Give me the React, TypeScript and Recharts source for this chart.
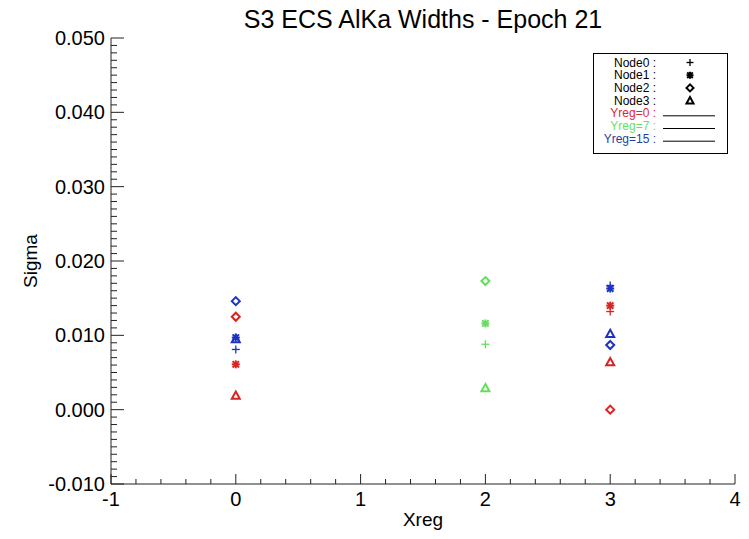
import React from 'react';
import { ScatterChart, Scatter, XAxis, YAxis } from 'recharts';

const TITLE = 'S3 ECS AlKa Widths - Epoch 21';
const X_LABEL = 'Xreg';
const Y_LABEL = 'Sigma';

const NODE_NAMES = ['Node0', 'Node1', 'Node2', 'Node3'];
const YREG_NAMES = ['Yreg=0', 'Yreg=7', 'Yreg=15'];

// Xreg positions where measurements exist
const XREG = [0, 2, 3];

// Sigma per Yreg / Node at each XREG (null = no point)
const yreg0Node0 = [null, null, 0.0132];
const yreg0Node1 = [0.0061, null, 0.014];
const yreg0Node2 = [0.0125, null, 0.0];
const yreg0Node3 = [0.0019, null, 0.0064];

const yreg7Node0 = [null, 0.0088, null];
const yreg7Node1 = [null, 0.0116, null];
const yreg7Node2 = [null, 0.0173, null];
const yreg7Node3 = [null, 0.0029, null];

const yreg15Node0 = [0.0081, null, 0.0167];
const yreg15Node1 = [0.0097, null, 0.0163];
const yreg15Node2 = [0.0146, null, 0.0087];
const yreg15Node3 = [0.0095, null, 0.0102];

const X_MAJOR_TICKS = [-1, 0, 1, 2, 3, 4];
const Y_MAJOR_TICKS = [-0.01, 0, 0.01, 0.02, 0.03, 0.04, 0.05];
const X_MINOR_DIV = 5;
const Y_MINOR_DIV = 10;

const COLORS = ['#d82424', '#62e05a', '#1c34c0'];
const LEGEND_TEXT_COLORS = ['#d82838', '#6ee060', '#1f3f9f'];
const AXIS = '#222222';
const FONT = '"Liberation Sans", Arial, Helvetica, sans-serif';

const SERIES = [
  [yreg0Node0, yreg0Node1, yreg0Node2, yreg0Node3],
  [yreg7Node0, yreg7Node1, yreg7Node2, yreg7Node3],
  [yreg15Node0, yreg15Node1, yreg15Node2, yreg15Node3],
];

function subdivide(majors: number[], div: number): number[] {
  const out: number[] = [];
  for (let i = 0; i < majors.length - 1; i++) {
    const a = majors[i];
    const b = majors[i + 1];
    for (let k = 0; k < div; k++) out.push(+(a + ((b - a) * k) / div).toFixed(6));
  }
  out.push(majors[majors.length - 1]);
  return out;
}

const X_TICKS = subdivide(X_MAJOR_TICKS, X_MINOR_DIV);
const Y_TICKS = subdivide(Y_MAJOR_TICKS, Y_MINOR_DIV);

const isMajor = (v: number, majors: number[]) => majors.some((m) => Math.abs(m - v) < 1e-9);

function Marker({ cx, cy, node, color, s = 4 }: any) {
  if (cx == null || cy == null) return null;
  if (node === 0) {
    return (
      <g stroke={color} strokeWidth={1.3} fill="none">
        <line x1={cx - s} x2={cx + s} y1={cy} y2={cy} />
        <line x1={cx} x2={cx} y1={cy - s} y2={cy + s} />
      </g>
    );
  }
  if (node === 1) {
    const d = s * 0.8;
    return (
      <g stroke={color} strokeWidth={2} fill="none">
        <line x1={cx - s} x2={cx + s} y1={cy} y2={cy} />
        <line x1={cx} x2={cx} y1={cy - s} y2={cy + s} />
        <line x1={cx - d} x2={cx + d} y1={cy - d} y2={cy + d} />
        <line x1={cx - d} x2={cx + d} y1={cy + d} y2={cy - d} />
      </g>
    );
  }
  if (node === 2) {
    return (
      <polygon
        points={`${cx},${cy - s} ${cx + s},${cy} ${cx},${cy + s} ${cx - s},${cy}`}
        fill="none"
        stroke={color}
        strokeWidth={2}
      />
    );
  }
  return (
    <polygon
      points={`${cx},${cy - s} ${cx + s},${cy + s * 0.8} ${cx - s},${cy + s * 0.8}`}
      fill="none"
      stroke={color}
      strokeWidth={2}
    />
  );
}

const BottomTick = (p: any) => {
  const v = p.payload.value;
  const major = isMajor(v, X_MAJOR_TICKS);
  return (
    <g>
      <line x1={p.x} x2={p.x} y1={p.y} y2={p.y - (major ? 10 : 5)} stroke={AXIS} strokeWidth={1} />
      {major && (
        <text x={p.x} y={p.y + 22} textAnchor="middle" fontSize={20} fontFamily={FONT} fill="#000">
          {String(v)}
        </text>
      )}
    </g>
  );
};

const TopTick = (p: any) => {
  const v = p.payload.value;
  const major = isMajor(v, X_MAJOR_TICKS);
  return <line x1={p.x} x2={p.x} y1={p.y} y2={p.y + (major ? 10 : 5)} stroke={AXIS} strokeWidth={1} />;
};

const LeftTick = (p: any) => {
  const v = p.payload.value;
  const major = isMajor(v, Y_MAJOR_TICKS);
  return (
    <g>
      <line x1={p.x} x2={p.x + (major ? 13 : 6)} y1={p.y} y2={p.y} stroke={AXIS} strokeWidth={1} />
      {major && (
        <text x={p.x - 6} y={p.y + 7} textAnchor="end" fontSize={20} fontFamily={FONT} fill="#000">
          {v.toFixed(3)}
        </text>
      )}
    </g>
  );
};

const RightTick = (p: any) => {
  const v = p.payload.value;
  const major = isMajor(v, Y_MAJOR_TICKS);
  return <line x1={p.x} x2={p.x - (major ? 13 : 6)} y1={p.y} y2={p.y} stroke={AXIS} strokeWidth={1} />;
};

function Legend() {
  const rowY = (i: number) => 66.5 + i * 12.7;
  return (
    <g fontFamily={FONT} fontSize={12}>
      <rect x={593.5} y={53.5} width={134} height={100} fill="#fff" stroke="#000" strokeWidth={1} />
      {NODE_NAMES.map((n, i) => (
        <g key={n}>
          <text x={656} y={rowY(i)} textAnchor="end" fill="#000">
            {n + ' :'}
          </text>
          <Marker cx={690} cy={rowY(i) - 4} node={i} color="#000" s={3.5} />
        </g>
      ))}
      {YREG_NAMES.map((n, j) => (
        <g key={n}>
          <text x={656} y={rowY(j + 4)} textAnchor="end" fill={LEGEND_TEXT_COLORS[j]}>
            {n + ' :'}
          </text>
          <line x1={663} x2={715} y1={rowY(j + 4) - 1.5} y2={rowY(j + 4) - 1.5} stroke="#000" strokeWidth={1} />
        </g>
      ))}
    </g>
  );
}

export default function App() {
  const W = 749;
  const H = 539;
  return (
    <div style={{ position: 'absolute', left: 0, top: 0, width: W, height: H, background: '#fff' }}>
      <ScatterChart width={W} height={H} margin={{ top: 38, right: 14, bottom: 0, left: 0 }}>
        <XAxis
          xAxisId="b"
          type="number"
          dataKey="x"
          domain={[-1, 4]}
          ticks={X_TICKS}
          interval={0}
          orientation="bottom"
          height={55}
          tickSize={0}
          tickMargin={0}
          tickLine={false}
          axisLine={{ stroke: AXIS, strokeWidth: 1 }}
          tick={BottomTick}
          label={{
            content: ({ viewBox }: any) => (
              <text
                x={viewBox.x + viewBox.width / 2}
                y={viewBox.y + 42}
                textAnchor="middle"
                fontSize={19}
                fontFamily={FONT}
                fill="#000"
              >
                {X_LABEL}
              </text>
            ),
          }}
        />
        <XAxis
          xAxisId="t"
          type="number"
          domain={[-1, 4]}
          ticks={X_TICKS}
          interval={0}
          orientation="top"
          height={0}
          tickSize={0}
          tickMargin={0}
          tickLine={false}
          axisLine={{ stroke: AXIS, strokeWidth: 1 }}
          tick={TopTick}
        />
        <YAxis
          yAxisId="l"
          type="number"
          dataKey="y"
          domain={[-0.01, 0.05]}
          ticks={Y_TICKS}
          interval={0}
          orientation="left"
          width={111}
          tickSize={0}
          tickMargin={0}
          tickLine={false}
          axisLine={{ stroke: AXIS, strokeWidth: 1 }}
          tick={LeftTick}
          label={{
            content: ({ viewBox }: any) => {
              const cx = viewBox.x + 30;
              const cy = viewBox.y + viewBox.height / 2;
              return (
                <text
                  x={cx}
                  y={cy}
                  transform={`rotate(-90 ${cx} ${cy})`}
                  textAnchor="middle"
                  dominantBaseline="central"
                  fontSize={19}
                  fontFamily={FONT}
                  fill="#000"
                >
                  {Y_LABEL}
                </text>
              );
            },
          }}
        />
        <YAxis
          yAxisId="r"
          type="number"
          domain={[-0.01, 0.05]}
          ticks={Y_TICKS}
          interval={0}
          orientation="right"
          width={0}
          tickSize={0}
          tickMargin={0}
          tickLine={false}
          axisLine={{ stroke: AXIS, strokeWidth: 1 }}
          tick={RightTick}
        />
        {SERIES.map((nodes, j) =>
          nodes.map((vals, i) => {
            const data = XREG.map((x, k) => ({ x, y: vals[k] })).filter((d) => d.y !== null);
            return (
              <Scatter
                key={`${j}-${i}`}
                name={`${YREG_NAMES[j]} ${NODE_NAMES[i]}`}
                xAxisId="b"
                yAxisId="l"
                data={data}
                isAnimationActive={false}
                shape={(p: any) => <Marker cx={p.cx} cy={p.cy} node={i} color={COLORS[j]} />}
              />
            );
          })
        )}
      </ScatterChart>
      <svg width={W} height={H} style={{ position: 'absolute', left: 0, top: 0, pointerEvents: 'none' }}>
        <text x={423} y={28} textAnchor="middle" fontSize={25} fontFamily={FONT} fill="#000">
          {TITLE}
        </text>
        <Legend />
      </svg>
    </div>
  );
}
